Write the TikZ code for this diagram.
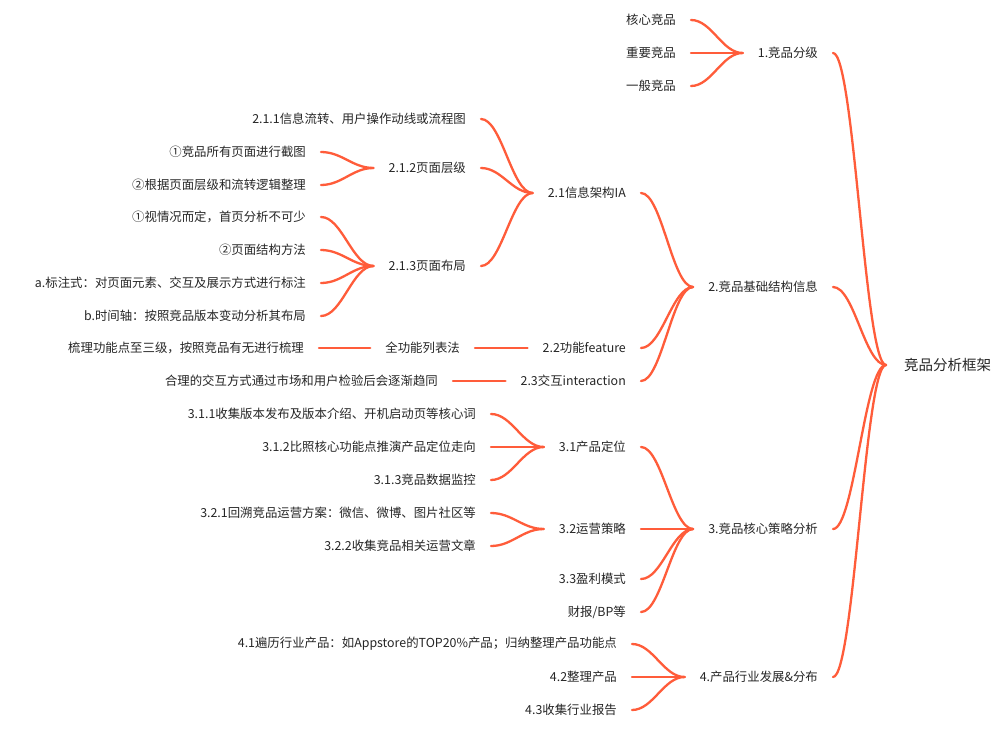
\documentclass[tikz,border=0pt]{standalone}
\usepackage{fontspec}
\setmainfont{Noto Sans CJK SC}
\usetikzlibrary{calc}
\definecolor{linkc}{RGB}{255,92,58}
\definecolor{txt}{RGB}{38,38,38}
\tikzset{
  topic/.style={inner xsep=15pt, inner ysep=2pt, text=txt, font=\fontsize{12.4pt}{14pt}\selectfont},
  roottopic/.style={inner xsep=18pt, inner ysep=2pt, text=txt, font=\fontsize{14.5pt}{17pt}\selectfont},
  link/.style={draw=linkc, line width=2.3pt, line cap=round,
    to path={let \p1=(\tikztostart), \p2=(\tikztotarget) in
      .. controls ({\x1+0.4*(\x2-\x1)},\y1) and ({\x2-0.4*(\x2-\x1)},\y2) .. (\tikztotarget) \tikztonodes}},
  straight/.style={draw=linkc, line width=2.3pt, line cap=round}
}
\begin{document}
\begin{tikzpicture}[x=1pt,y=-1pt]
\fill[white] (0,0) rectangle (1000,730);
\useasboundingbox (0,0) rectangle (1000,730);

% root
\node[roottopic, anchor=west] (root) at (886,365) {竞品分析框架};

% level 1
\node[topic, anchor=east] (n1) at (833,53) {1.竞品分级};
\node[topic, anchor=east] (n2) at (833,287) {2.竞品基础结构信息};
\node[topic, anchor=east] (n3) at (833,529) {3.竞品核心策略分析};
\node[topic, anchor=east] (n4) at (833,677) {4.产品行业发展\&分布};

% under 1
\node[topic, anchor=east] (n11) at (691,20) {核心竞品};
\node[topic, anchor=east] (n12) at (691,53) {重要竞品};
\node[topic, anchor=east] (n13) at (691,86) {一般竞品};

% under 2
\node[topic, anchor=east] (n21) at (641,193) {2.1信息架构IA};
\node[topic, anchor=east] (n22) at (641,348) {2.2功能feature};
\node[topic, anchor=east] (n23) at (641,381) {2.3交互interaction};

% under 2.1
\node[topic, anchor=east] (n211) at (481,119) {2.1.1信息流转、用户操作动线或流程图};
\node[topic, anchor=east] (n212) at (481,168) {2.1.2页面层级};
\node[topic, anchor=east] (n213) at (481,266) {2.1.3页面布局};

% under 2.1.2
\node[topic, anchor=east] (n2121) at (321,152) {①竞品所有页面进行截图};
\node[topic, anchor=east] (n2122) at (321,185) {②根据页面层级和流转逻辑整理};

% under 2.1.3
\node[topic, anchor=east] (n2131) at (321,217) {①视情况而定，首页分析不可少};
\node[topic, anchor=east] (n2132) at (321,250) {②页面结构方法};
\node[topic, anchor=east] (n2133) at (321,283) {a.标注式：对页面元素、交互及展示方式进行标注};
\node[topic, anchor=east] (n2134) at (321,316) {b.时间轴：按照竞品版本变动分析其布局};

% under 2.2 / 2.3
\node[topic, anchor=east] (n221) at (475,348) {全功能列表法};
\node[topic, anchor=east] (n2211) at (319,348) {梳理功能点至三级，按照竞品有无进行梳理};
\node[topic, anchor=east] (n231) at (453,381) {合理的交互方式通过市场和用户检验后会逐渐趋同};

% under 3
\node[topic, anchor=east] (n31) at (641,447) {3.1产品定位};
\node[topic, anchor=east] (n32) at (641,529) {3.2运营策略};
\node[topic, anchor=east] (n33) at (641,579) {3.3盈利模式};
\node[topic, anchor=east] (n34) at (641,612) {财报/BP等};

% under 3.1
\node[topic, anchor=east] (n311) at (491,414) {3.1.1收集版本发布及版本介绍、开机启动页等核心词};
\node[topic, anchor=east] (n312) at (491,447) {3.1.2比照核心功能点推演产品定位走向};
\node[topic, anchor=east] (n313) at (491,480) {3.1.3竞品数据监控};

% under 3.2
\node[topic, anchor=east] (n321) at (491,513) {3.2.1回溯竞品运营方案：微信、微博、图片社区等};
\node[topic, anchor=east] (n322) at (491,546) {3.2.2收集竞品相关运营文章};

% under 4
\node[topic, anchor=east] (n41) at (632,644) {4.1遍历行业产品：如Appstore的TOP20\%产品；归纳整理产品功能点};
\node[topic, anchor=east] (n42) at (632,677) {4.2整理产品};
\node[topic, anchor=east] (n43) at (632,710) {4.3收集行业报告};

% connectors
\foreach \ch/\pa in {n1/root,n2/root,n3/root,n4/root,
  n11/n1,n12/n1,n13/n1,
  n21/n2,n22/n2,n23/n2,
  n211/n21,n212/n21,n213/n21,
  n2121/n212,n2122/n212,
  n2131/n213,n2132/n213,n2133/n213,n2134/n213,
  n31/n3,n32/n3,n33/n3,n34/n3,
  n311/n31,n312/n31,n313/n31,
  n321/n32,n322/n32,
  n41/n4,n42/n4,n43/n4}
  \draw[link] (\ch.east) to (\pa.west);
\draw[straight] (n221.east) -- (n22.west);
\draw[straight] (n2211.east) -- (n221.west);
\draw[straight] (n231.east) -- (n23.west);
\end{tikzpicture}
\end{document}
